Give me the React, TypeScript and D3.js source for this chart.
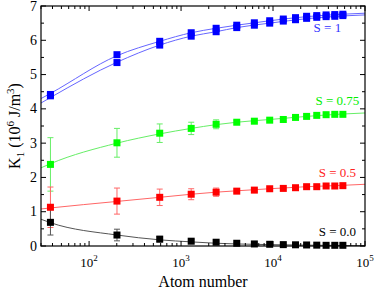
import React, { useEffect, useRef } from 'react';
import * as d3 from 'd3';

// atom numbers of the clusters
const atoms = [38, 201, 586, 1289, 2406, 4033, 6266, 9201, 12934, 17561, 23178, 29881, 37766, 46929, 57466];

// K1 values (10^6 J/m^3)
const s1Upper = [4.42, 5.58, 5.97, 6.22, 6.35, 6.44, 6.51, 6.57, 6.62, 6.66, 6.70, 6.72, 6.74, 6.75, 6.76];
const s1Lower = [4.38, 5.35, 5.86, 6.12, 6.25, 6.37, 6.44, 6.50, 6.56, 6.60, 6.64, 6.67, 6.69, 6.70, 6.72];
const s075 = [2.38, 3.01, 3.29, 3.43, 3.55, 3.61, 3.64, 3.67, 3.69, 3.75, 3.78, 3.81, 3.83, 3.84, 3.84];
const s075Err = [0.78, 0.42, 0.27, 0.18, 0.13, 0.05, 0.04, 0.03, 0.03, 0.02, 0.02, 0.02, 0.02, 0.02, 0.02];
const s05 = [1.13, 1.31, 1.42, 1.51, 1.57, 1.60, 1.63, 1.67, 1.68, 1.70, 1.73, 1.73, 1.75, 1.75, 1.76];
const s05Err = [0.59, 0.38, 0.24, 0.16, 0.12, 0.04, 0.03, 0.03, 0.02, 0.02, 0.02, 0.02, 0.02, 0.02, 0.02];
const s0 = [0.69, 0.32, 0.20, 0.14, 0.11, 0.08, 0.06, 0.05, 0.04, 0.035, 0.03, 0.025, 0.02, 0.02, 0.02];
const s0Err = [0.37, 0.17, 0.08, 0.05, 0.03, 0.02, 0.02, 0.01, 0.01, 0.01, 0.01, 0.01, 0.01, 0.01, 0.01];

// fitted curves
const fitX = [30, 38, 201, 586, 1289, 2406, 4033, 9201, 23178, 57466, 100000];
const fitS1Upper = [4.30, 4.45, 5.55, 5.97, 6.22, 6.35, 6.44, 6.57, 6.69, 6.76, 6.79];
const fitS1Lower = [4.17, 4.33, 5.36, 5.86, 6.12, 6.25, 6.37, 6.50, 6.63, 6.71, 6.74];
const fitS075 = [2.28, 2.40, 3.00, 3.27, 3.43, 3.54, 3.61, 3.69, 3.78, 3.85, 3.88];
const fitS05 = [1.08, 1.11, 1.30, 1.42, 1.51, 1.57, 1.61, 1.67, 1.73, 1.77, 1.80];
const fitS0 = [0.78, 0.68, 0.32, 0.18, 0.12, 0.08, 0.06, 0.04, 0.025, 0.015, 0.01];

const yTicks = [0, 1, 2, 3, 4, 5, 6, 7];
const xDecades = [2, 3, 4, 5];

const W = 374, H = 291;
const margin = { left: 41, right: 9, top: 6, bottom: 45 };
const FONT = 'Liberation Serif, Times New Roman, Times, DejaVu Serif, serif';

const App: React.FC = () => {
  const svgRef = useRef<SVGSVGElement>(null);

  useEffect(() => {
    if (!svgRef.current) return;
    const svg = d3.select(svgRef.current);
    svg.selectAll('*').remove();

    const x = d3.scaleLog().domain([30, 1e5]).range([margin.left, W - margin.right]);
    const y = d3.scaleLinear().domain([0, 7]).range([H - margin.bottom, margin.top]);
    const x0 = margin.left, x1 = W - margin.right, y0 = H - margin.bottom, y1 = margin.top;

    const g = svg.append('g').style('font-family', FONT);

    // fit lines
    const line = d3.line<[number, number]>()
      .x(d => x(d[0]))
      .y(d => y(d[1]))
      .curve(d3.curveMonotoneX);
    const fits: [number[], string][] = [
      [fitS1Upper, '#6666ff'],
      [fitS1Lower, '#6666ff'],
      [fitS075, '#66ee66'],
      [fitS05, '#ff6666'],
      [fitS0, '#555555'],
    ];
    fits.forEach(([vals, col]) => {
      g.append('path')
        .attr('d', line(fitX.map((v, i) => [v, vals[i]] as [number, number])))
        .attr('fill', 'none')
        .attr('stroke', col)
        .attr('stroke-width', 1);
    });

    // error bars
    const errSeries: [number[], number[], string][] = [
      [s075, s075Err, '#66ee66'],
      [s05, s05Err, '#ff6666'],
      [s0, s0Err, '#555555'],
    ];
    errSeries.forEach(([vals, errs, col]) => {
      atoms.forEach((a, i) => {
        const cx = x(a);
        const top = y(vals[i] + errs[i]);
        const bot = y(vals[i] - errs[i]);
        g.append('line').attr('x1', cx).attr('x2', cx).attr('y1', top).attr('y2', bot)
          .attr('stroke', col).attr('stroke-width', 1);
        [top, bot].forEach(yy => {
          g.append('line').attr('x1', cx - 3).attr('x2', cx + 3).attr('y1', yy).attr('y2', yy)
            .attr('stroke', col).attr('stroke-width', 1);
        });
      });
    });

    // markers
    const ms = 7;
    const markerSeries: [number[], string][] = [
      [s1Upper, '#0000ff'],
      [s1Lower, '#0000ff'],
      [s075, '#00ff00'],
      [s05, '#ff0000'],
      [s0, '#000000'],
    ];
    markerSeries.forEach(([vals, col]) => {
      g.selectAll(null)
        .data(atoms.map((a, i) => [a, vals[i]]))
        .join('rect')
        .attr('x', d => x(d[0]) - ms / 2)
        .attr('y', d => y(d[1]) - ms / 2)
        .attr('width', ms)
        .attr('height', ms)
        .attr('fill', col);
    });

    // frame
    g.append('rect')
      .attr('x', x0).attr('y', y1).attr('width', x1 - x0).attr('height', y0 - y1)
      .attr('fill', 'none').attr('stroke', '#000').attr('stroke-width', 1.2);

    // y ticks (both sides, inward)
    const yMinor = d3.range(0.5, 7, 1);
    yTicks.forEach(t => {
      g.append('line').attr('x1', x0).attr('x2', x0 + 5).attr('y1', y(t)).attr('y2', y(t)).attr('stroke', '#000');
      g.append('line').attr('x1', x1).attr('x2', x1 - 5).attr('y1', y(t)).attr('y2', y(t)).attr('stroke', '#000');
      g.append('text').attr('x', x0 - 4).attr('y', y(t) + 4.5)
        .attr('text-anchor', 'end').attr('font-size', 14).text(t);
    });
    yMinor.forEach(t => {
      g.append('line').attr('x1', x0).attr('x2', x0 + 3).attr('y1', y(t)).attr('y2', y(t)).attr('stroke', '#000');
      g.append('line').attr('x1', x1).attr('x2', x1 - 3).attr('y1', y(t)).attr('y2', y(t)).attr('stroke', '#000');
    });

    // x ticks (log, both sides, inward)
    const minorX: number[] = [];
    [1, 2, 3, 4].forEach(e => {
      d3.range(1, 10).forEach(m => {
        const v = m * Math.pow(10, e);
        if (v >= 30 && v <= 1e5 && m !== 1) minorX.push(v);
      });
    });
    minorX.forEach(v => {
      g.append('line').attr('x1', x(v)).attr('x2', x(v)).attr('y1', y0).attr('y2', y0 - 3).attr('stroke', '#000');
      g.append('line').attr('x1', x(v)).attr('x2', x(v)).attr('y1', y1).attr('y2', y1 + 3).attr('stroke', '#000');
    });
    xDecades.forEach(e => {
      const v = Math.pow(10, e);
      g.append('line').attr('x1', x(v)).attr('x2', x(v)).attr('y1', y0).attr('y2', y0 - 5).attr('stroke', '#000');
      g.append('line').attr('x1', x(v)).attr('x2', x(v)).attr('y1', y1).attr('y2', y1 + 5).attr('stroke', '#000');
      const t = g.append('text').attr('x', x(v)).attr('y', y0 + 21)
        .attr('text-anchor', 'middle').attr('font-size', 13);
      t.append('tspan').text('10');
      t.append('tspan').attr('dy', -6).attr('font-size', 9).text(e);
    });

    // axis titles
    g.append('text').attr('x', (x0 + x1) / 2).attr('y', H - 4)
      .attr('text-anchor', 'middle').attr('font-size', 16).text('Atom number');

    const yt = g.append('text')
      .attr('transform', `translate(20,${(y0 + y1) / 2}) rotate(-90)`)
      .attr('text-anchor', 'middle').attr('font-size', 16);
    yt.append('tspan').text('K');
    yt.append('tspan').attr('font-size', 11).attr('dy', 4).text('1');
    yt.append('tspan').attr('dy', -4).text(' (10');
    yt.append('tspan').attr('font-size', 11).attr('dy', -6).text('6');
    yt.append('tspan').attr('dy', 6).text(' J/m');
    yt.append('tspan').attr('font-size', 11).attr('dy', -6).text('3');
    yt.append('tspan').attr('dy', 6).text(')');

    // series labels
    const labels: [string, number, number, string][] = [
      ['S = 1', 39000, 6.25, '#3333ff'],
      ['S = 0.75', 50000, 4.1, '#00ee00'],
      ['S = 0.5', 50000, 2.0, '#ff2222'],
      ['S = 0.0', 50000, 0.28, '#000000'],
    ];
    labels.forEach(([txt, xv, v, col]) => {
      g.append('text').attr('x', x(xv)).attr('y', y(v))
        .attr('text-anchor', 'middle').attr('font-size', 13)
        .attr('fill', col).text(txt);
    });
  }, []);

  return (
    <svg ref={svgRef} width={W} height={H}
      style={{ position: 'absolute', left: 0, top: 0, background: '#fff' }} />
  );
};

export default App;
